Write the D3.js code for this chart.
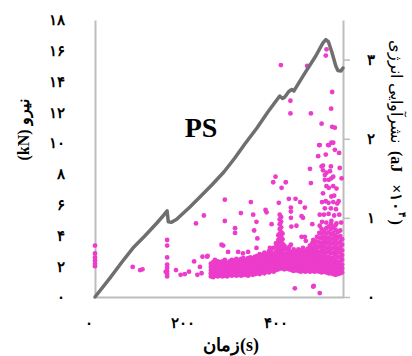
<!DOCTYPE html>
<html>
<head>
<meta charset="utf-8">
<script src="https://cdn.jsdelivr.net/npm/d3@7"></script>
<style>
    body { margin: 0; background: #fff; }
    svg { display: block; }
</style>
</head>
<body>
<div id="chart"></div>
<script>
// Force curve (time s, force kN)
const forceT = [13, 45, 71, 94.5, 120, 146, 161, 168, 170.5, 177.5, 188.5, 217, 238.5, 264, 290, 313.5, 335, 361,
    384.5, 410, 416, 421, 429.5, 436, 440.5, 464, 487.5, 502.5, 509, 514.5, 522, 530.5, 535, 541.5, 546];
const forceF = [0, 1.23, 2.27, 3.18, 3.96, 4.81, 5.33, 5.59, 4.89, 4.85, 5.05, 5.85, 6.50, 7.28, 8.12, 9.03, 9.94, 10.98,
    12.02, 13.06, 12.90, 13.0, 13.35, 13.48, 13.39, 14.55, 15.66, 16.50, 16.73, 16.60, 15.92, 15.01, 14.72, 14.68, 14.88];

// Acoustic emission energy, scattered hits [time, energy x10^4 aJ]
const aePoints = [
    [13, .65], [13, .55], [13, .50], [13, .46], [13, .42], [13, .39],
    [94, .38], [110, .34], [115, .35],
    [168, .72], [168, .65], [168, .50], [168, .41], [168, .37], [168, .33], [168, .29], [168, .26], [165, .32],
    [187, .34], [197, .28], [206, .29], [215, .32],
    [230, .93], [247, 1.03], [226, .45], [238.5, .38], [233, .28], [242, .30], [244, .51], [254, .51], [255, .52],
    [292, 1.23], [292, .96], [314, .87], [314, .81], [288.5, .65], [326.5, 1.06], [348, 1.20], [353, 1.04], [360, .95],
    [355, .84], [362, .74], [379.5, 1.10], [381.7, 1.07], [392.5, .92], [401, 1.52], [396, 1.45], [414, 1.38], [423, 1.45],
    [408, 1.19], [429.6, 1.24], [444, 1.24], [454, 1.20],
    [434, 1.13], [434, 1.08], [434, 1.00], [435, .89], [446, .90], [457, 1.02], [460, 1.00], [464, 1.13], [464, .76],
    [466, .71], [480, .92], [477, 1.44], [475, 1.62], [496, .90],
    [270.7, .47], [285, .66], [299, .57], [320.7, .57], [331, .55], [342, .57], [360, .62], [378, .55], [389, .62],
    [434, .66], [457, .76], [482, .72],
    [442.5, .11], [482, .13], [496, .05], [483, .14],
    [500, 1.65], [520, 1.65], [518, 1.59], [507, 1.54], [525, 1.52], [510.5, 1.40], [515.5, 1.38], [525, 1.40], [532, 1.37],
    [503, 1.31], [521, 1.27], [527, 1.28], [501, 1.20], [509, 1.21], [515, 1.19], [525, 1.20], [533.6, 1.18], [536.6, 1.21],
    [507, 1.12], [520, 1.12], [531, 1.11], [496, 1.04], [505, 1.04], [515, 1.05], [527, 1.03], [538, 1.04],
    [501, .95], [510, .94], [521, .96], [532, .93], [542, .94], [539, 1.63], [543, 1.50],
    [503, 1.60], [507, 1.48], [515.5, 1.48], [521, 1.50],
    [496, 1.92], [514, 1.92], [521, 1.95], [492.6, 1.78], [509, 1.80], [537.7, 1.82], [503, 1.66], [510.6, 1.57],
    [412.5, 2.93], [469, 2.92], [510.6, 3.13], [509, 3.05], [522.7, 2.59], [433, 2.48], [433, 2.32], [477, 2.32],
    [520.5, 2.38], [500, 2.19], [522.7, 2.15], [528.5, 2.14], [494.7, 1.92], [516, 1.92], [525, 1.95], [528.5, 1.86],
    // a few more in the dense band edges
    [264, .36], [274, .28], [289, .40], [304, .30], [319, .44], [334, .35], [349, .39], [364, .45], [379, .41],
    [394, .52], [404, .45], [423, .52], [438, .40], [452, .44], [467, .50], [478, .40], [488, .62], [498, .66],
    [508, .72], [518, .60], [528, .77], [537, .58], [542, .50]
];

// Dense band of hits, read column by column: [time, [energies]]
const aeBand = [
    [262, [.26, .30, .34, .38, .42]], [267, [.25, .29, .33, .37, .41, .44]], [272, [.27, .31, .35, .39, .43]],
    [277, [.26, .30, .34, .38, .42, .45]], [282, [.27, .31, .35, .40, .44]], [287, [.26, .29, .33, .37, .41, .45]],
    [292, [.27, .31, .36, .40, .44, .47]], [297, [.26, .30, .34, .38, .43]], [302, [.28, .32, .36, .41, .45]],
    [307, [.27, .31, .35, .39, .43, .47]], [312, [.28, .32, .37, .41, .46]], [317, [.27, .31, .35, .39, .44, .48]],
    [322, [.28, .33, .37, .42, .46]], [327, [.27, .31, .36, .40, .44, .48]], [332, [.28, .32, .37, .41, .45, .49]],
    [337, [.28, .33, .38, .42, .47]], [342, [.27, .31, .35, .40, .44, .49]], [347, [.29, .33, .37, .42, .46, .50]],
    [352, [.28, .32, .36, .41, .45, .49]], [357, [.29, .33, .38, .42, .47, .51]], [362, [.30, .34, .38, .43, .47, .52]],
    [367, [.29, .33, .37, .42, .46, .50, .54]], [372, [.31, .35, .39, .44, .48, .53]],
    [377, [.30, .34, .38, .43, .47, .52, .56]], [382, [.32, .36, .40, .45, .49, .54]],
    [387, [.31, .35, .40, .44, .49, .53, .58]], [392, [.33, .37, .41, .46, .50, .55, .60]],
    [397, [.32, .36, .41, .45, .50, .55, .62]], [402, [.34, .38, .43, .47, .52, .57, .63, .68]],
    [407, [.35, .39, .44, .49, .54, .60, .66, .72, .78]],
    [410, [.36, .41, .46, .51, .56, .62, .68, .74, .80, .86, .92, .98, 1.04]],
    [413, [.37, .42, .47, .52, .58, .64, .70, .76, .82, .88, .95, 1.01]],
    [416, [.36, .40, .45, .50, .55, .61, .67, .73, .80]], [420, [.35, .39, .44, .49, .54, .60, .65]],
    [425, [.36, .40, .45, .50, .55, .61]], [430, [.35, .39, .43, .48, .53, .58, .63]],
    [435, [.34, .38, .43, .47, .52, .57]], [440, [.33, .37, .42, .46, .51, .56, .60]],
    [445, [.34, .38, .42, .47, .52, .57]], [450, [.33, .37, .41, .46, .50, .55, .60]],
    [455, [.32, .36, .41, .45, .50, .54, .59]], [460, [.33, .37, .42, .46, .51, .56, .62]],
    [465, [.32, .36, .40, .45, .49, .54, .58]], [470, [.33, .37, .41, .46, .51, .56, .61]],
    [475, [.32, .36, .41, .45, .50, .55, .60, .65]], [480, [.33, .37, .42, .47, .52, .57, .62, .68]],
    [485, [.32, .36, .41, .46, .51, .56, .61, .66, .71]], [490, [.33, .38, .43, .48, .53, .58, .64, .70, .76]],
    [495, [.32, .37, .42, .47, .52, .57, .63, .69, .75, .81]],
    [500, [.31, .36, .41, .46, .51, .57, .62, .68, .74, .80, .86]],
    [505, [.32, .37, .42, .47, .53, .58, .64, .70, .76, .83]],
    [510, [.31, .35, .40, .45, .50, .56, .62, .68, .74, .80, .87]],
    [515, [.30, .35, .40, .45, .51, .57, .63, .69, .75, .82, .89]],
    [520, [.30, .34, .39, .44, .49, .55, .61, .67, .73, .79, .86, .92]],
    [525, [.29, .34, .39, .44, .50, .56, .62, .68, .74, .81, .88]],
    [530, [.28, .33, .38, .43, .48, .54, .60, .66, .72, .78, .85, .91]],
    [535, [.29, .34, .39, .44, .50, .56, .62, .68, .75, .82]],
    [540, [.30, .35, .40, .45, .51, .57, .63, .70, .77, .84]],
    [544, [.31, .36, .41, .47, .53, .59, .66, .73]]
];

const timeTicks = [0, 200, 400];
const forceTicks = [0, 2, 4, 6, 8, 10, 12, 14, 16, 18];
const energyTicks = [0, 1, 2, 3];

const faDigits = "۰۱۲۳۴۵۶۷۸۹";
const fa = d => String(d).replace(/\d/g, c => faDigits[c]);

const width = 412, height = 356;
const axisColor = "#bdbdbd";
const dotColor = "#ec3ccb";
const serif = "'Liberation Serif', 'DejaVu Serif', serif";

let svg = d3.select("#chart").append("svg")
    .attr("width", width)
    .attr("height", height);

let x = d3.scaleLinear().domain([13, 546]).range([95, 343]);
let yF = d3.scaleLinear().domain([0, 18]).range([297, 20]);
let yE = d3.scaleLinear().domain([0, 3.5]).range([297, 20]);

// axes
let styleAxis = g => {
    g.select(".domain").attr("stroke", axisColor).attr("stroke-width", 2);
    g.selectAll(".tick line").attr("stroke", axisColor).attr("stroke-width", 1.5);
    g.selectAll(".tick text")
        .attr("fill", "#000")
        .style("font-family", serif)
        .style("font-weight", "bold")
        .style("font-size", "15px");
};

svg.append("g")
    .attr("transform", "translate(95,0)")
    .call(d3.axisLeft(yF).tickValues(forceTicks).tickSize(0).tickPadding(30).tickFormat(fa))
    .call(styleAxis);

svg.append("g")
    .attr("transform", "translate(0,297)")
    .call(d3.axisBottom(x).tickValues(timeTicks).tickSize(0).tickPadding(20).tickFormat(fa))
    .call(styleAxis)
    .selectAll(".tick text").style("letter-spacing", "2px");

svg.append("g")
    .attr("transform", "translate(343,0)")
    .call(d3.axisRight(yE).tickValues(energyTicks).tickSize(7).tickSizeOuter(0).tickPadding(17).tickFormat(fa))
    .call(styleAxis);

// AE hits
let bandPoints = [];
aeBand.forEach(([t, vs]) => vs.forEach(v => bandPoints.push([t, v])));

svg.append("g")
    .selectAll("circle")
    .data(bandPoints.concat(aePoints))
    .enter().append("circle")
    .attr("cx", d => x(d[0]))
    .attr("cy", d => yE(d[1]))
    .attr("r", 2.4)
    .attr("fill", dotColor);

// force curve
let line = d3.line()
    .x((d, i) => x(forceT[i]))
    .y(d => yF(d));

svg.append("path")
    .datum(forceF)
    .attr("d", line)
    .attr("fill", "none")
    .attr("stroke", "#6f6f6f")
    .attr("stroke-width", 3.5)
    .attr("stroke-linejoin", "round")
    .attr("stroke-linecap", "round");

// labels
svg.append("text")
    .attr("x", 201)
    .attr("y", 137)
    .attr("text-anchor", "middle")
    .style("font-family", serif)
    .style("font-weight", "bold")
    .style("font-size", "28px")
    .text("PS");

svg.append("text")
    .attr("x", 231)
    .attr("y", 351)
    .attr("text-anchor", "middle")
    .style("font-family", serif)
    .style("font-weight", "bold")
    .style("font-size", "18px")
    .text("زمان(s)");

svg.append("text")
    .attr("transform", "translate(29,130) rotate(-90)")
    .attr("text-anchor", "middle")
    .attr("direction", "rtl")
    .style("font-family", serif)
    .style("font-weight", "bold")
    .style("font-size", "16px")
    .text("نیرو (kN)");

// right title, pieces laid out top to bottom
let titleParts = [
    { text: "انرژی", size: 16, weight: "normal", gap: 5 },
    { text: "نشرآوایی", size: 16, weight: "normal", gap: 8 },
    { text: "(aJ", size: 16, weight: "bold", gap: 12 },
    { text: "×۱۰", size: 16, weight: "bold", gap: 1 },
    { text: "۴", size: 10, weight: "bold", gap: 2, sup: true },
    { text: ")", size: 16, weight: "bold", gap: 0 }
];
let rt = svg.append("g").attr("transform", "translate(391,40) rotate(90)");
let cursor = 0;
titleParts.forEach(p => {
    let t = rt.append("text")
        .attr("x", cursor)
        .attr("y", p.sup ? -8 : 0)
        .style("font-family", serif)
        .style("font-weight", p.weight)
        .style("font-size", p.size + "px")
        .text(p.text);
    cursor += t.node().getComputedTextLength() + p.gap;
});
</script>
</body>
</html>
